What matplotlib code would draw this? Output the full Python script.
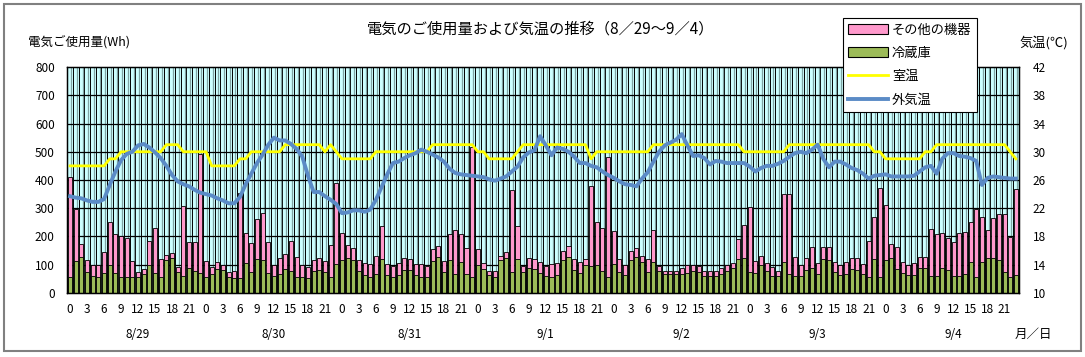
import numpy as np
import matplotlib
matplotlib.use('Agg')
import matplotlib.pyplot as plt
from matplotlib.patches import Patch, Rectangle
from matplotlib.lines import Line2D

plt.rcParams['font.family'] = ['Noto Sans CJK JP', 'DejaVu Sans']

days = ['8/29', '8/30', '8/31', '9/1', '9/2', '9/3', '9/4']
hour_ticks = [0, 3, 6, 9, 12, 15, 18, 21]

# hourly total usage (Wh) = その他の機器 + 冷蔵庫
total_wh = [
    410, 297, 173, 117, 99, 99, 144, 250, 208, 200, 196, 113, 75, 85, 185, 229, 119, 134, 140, 93, 307, 182, 182, 491,
    113, 93, 109, 99, 75, 79, 353, 211, 178, 261, 284, 182, 99, 123, 137, 185, 127, 99, 93, 117, 123, 113, 170, 388,
    211, 170, 158, 117, 105, 101, 132, 238, 101, 97, 105, 125, 120, 101, 101, 97, 155, 166, 113, 209, 223, 208, 158, 518,
    155, 105, 78, 78, 132, 146, 365, 238, 97, 123, 119, 109, 97, 101, 105, 150, 165, 119, 109, 119, 379, 250, 231, 483,
    220, 119, 99, 150, 158, 132, 119, 223, 97, 79, 79, 79, 87, 99, 99, 97, 79, 79, 79, 87, 99, 105, 190, 241,
    306, 113, 131, 105, 93, 78, 349, 349, 126, 99, 123, 164, 105, 162, 162, 111, 99, 111, 123, 123, 103, 185, 268, 371,
    310, 173, 164, 111, 99, 105, 126, 126, 225, 208, 211, 196, 182, 211, 215, 250, 297, 268, 223, 264, 280, 280, 197, 367,
]
# 冷蔵庫 (Wh)
fridge_wh = [
    55, 113, 126, 75, 61, 58, 70, 99, 70, 58, 58, 58, 58, 66, 99, 70, 58, 117, 123, 75, 61, 90, 78, 70,
    58, 66, 85, 81, 58, 54, 54, 105, 73, 120, 117, 70, 61, 66, 85, 78, 58, 58, 54, 78, 81, 75, 58, 101,
    117, 123, 117, 78, 64, 58, 66, 119, 64, 58, 64, 81, 81, 64, 58, 58, 113, 126, 75, 117, 66, 109, 66, 58,
    99, 85, 64, 58, 117, 125, 75, 119, 75, 87, 85, 70, 61, 58, 64, 117, 129, 81, 70, 99, 96, 99, 79, 58,
    101, 75, 64, 117, 129, 109, 75, 111, 78, 66, 66, 66, 66, 70, 78, 75, 61, 61, 61, 68, 78, 90, 119, 125,
    75, 72, 99, 78, 61, 61, 111, 66, 61, 61, 81, 90, 66, 120, 117, 73, 64, 66, 85, 81, 66, 58, 120, 58,
    117, 125, 85, 72, 64, 64, 90, 87, 61, 61, 90, 81, 61, 61, 66, 111, 58, 111, 125, 123, 117, 73, 58, 64,
]
# 室温 (C)
room_temp = [
    28, 28, 28, 28, 28, 28, 28, 29, 29, 30, 30, 30, 30, 30, 30, 30, 30, 31, 31, 31, 30, 30, 30, 30,
    30, 28, 28, 28, 28, 28, 29, 29, 30, 30, 30, 30, 30, 30, 31, 31, 31, 31, 31, 31, 31, 30, 31, 30,
    29, 29, 29, 29, 29, 29, 30, 30, 30, 30, 30, 30, 30, 30, 30, 30, 31, 31, 31, 31, 31, 31, 31, 31,
    30, 30, 29, 29, 29, 29, 29, 30, 31, 31, 31, 31, 31, 31, 31, 31, 31, 31, 31, 31, 29, 30, 30, 30,
    30, 30, 30, 30, 30, 30, 30, 31, 31, 31, 31, 31, 31, 31, 31, 31, 31, 31, 31, 31, 31, 31, 31, 30,
    30, 30, 30, 30, 30, 30, 30, 31, 31, 31, 31, 31, 31, 31, 31, 31, 31, 31, 31, 31, 31, 31, 30, 30,
    29, 29, 29, 29, 29, 29, 29, 30, 30, 31, 31, 31, 31, 31, 31, 31, 31, 31, 31, 31, 31, 31, 30, 29,
]
# 外気温 (C)
outside_temp = [
    23.7, 23.5, 23.4, 23.1, 22.9, 22.9, 23.3, 25.3, 27.2, 28.8, 29.7, 30.0, 30.9, 31.1, 30.6, 29.9, 29.1, 28.0, 26.7, 25.8, 25.4, 25.1, 24.6, 24.2,
    24.0, 23.8, 23.4, 23.1, 22.7, 22.7, 23.6, 25.4, 26.9, 28.4, 29.6, 31.0, 32.0, 31.6, 31.6, 31.1, 30.4, 29.3, 26.6, 24.3, 24.3, 23.7, 23.2, 22.6,
    21.3, 21.4, 21.7, 21.7, 21.5, 21.8, 23.2, 25.0, 26.8, 28.4, 28.6, 29.1, 29.5, 29.8, 30.3, 30.0, 29.6, 29.2, 28.6, 27.6, 27.0, 26.8, 26.7, 26.6,
    26.5, 26.4, 26.1, 25.9, 26.2, 26.5, 27.2, 27.9, 29.2, 29.9, 30.2, 32.2, 30.9, 29.5, 30.6, 30.4, 30.0, 29.3, 28.4, 28.4, 28.0, 27.8, 27.2, 26.7,
    26.3, 25.8, 25.4, 25.3, 25.1, 26.2, 27.1, 28.6, 30.0, 30.9, 31.3, 31.7, 32.5, 30.9, 29.4, 29.5, 29.1, 28.2, 28.7, 28.6, 28.4, 28.4, 28.4, 28.4,
    27.9, 27.2, 27.7, 28.0, 28.0, 28.3, 28.7, 29.3, 29.8, 30.0, 29.8, 30.3, 31.0, 29.0, 27.8, 28.6, 28.6, 28.2, 27.7, 27.4, 26.9, 26.2, 26.6, 26.7,
    26.8, 26.5, 26.5, 26.5, 26.5, 26.6, 27.2, 27.8, 28.0, 26.9, 29.0, 29.8, 29.8, 29.4, 29.3, 29.1, 28.7, 25.3, 26.3, 26.5, 26.4, 26.3, 26.2, 26.2,
]

pink = '#FF99CC'
green = '#9CBB58'
cyan = '#CCFFFF'

n = len(total_wh)
x = np.arange(n)

fig = plt.figure(figsize=(10.85, 3.57), dpi=100)
fig.patches.append(Rectangle((0.004, 0.018), 0.992, 0.972, transform=fig.transFigure,
                             fill=False, edgecolor='#808080', lw=1.5))
ax = fig.add_axes([0.062, 0.1793, 0.8769, 0.633])
ax.set_facecolor(cyan)

# gridlines
for v in np.arange(-0.5, n, 1.0):
    ax.axvline(v, color='black', lw=0.7, zorder=0.5)
for v in x:
    ax.axvline(v + 0.2, color='#7fa3a3', lw=0.9, zorder=0.5)
for h in range(100, 800, 100):
    ax.axhline(h, color='black', lw=0.9, zorder=0.6)

ax.bar(x, total_wh, width=0.72, color=pink, edgecolor='black', lw=0.6, zorder=2)
ax.bar(x, fridge_wh, width=0.72, color=green, edgecolor='black', lw=0.6, zorder=2)

ax.set_xlim(-0.5, n - 0.5)
ax.set_ylim(0, 800)
ax.set_yticks(range(0, 801, 100))
ax.tick_params(axis='y', length=0, pad=9, labelsize=8.5)
pos = [d * 24 + h for d in range(len(days)) for h in hour_ticks]
ax.set_xticks(pos)
ax.set_xticklabels([str(h) for d in range(len(days)) for h in hour_ticks])
ax.tick_params(axis='x', length=0, pad=7, labelsize=8.5)
for s in ax.spines.values():
    s.set_color('black')
    s.set_linewidth(1.0)

ax2 = ax.twinx()
ax2.plot(x, room_temp, color='#FFFF00', lw=2, zorder=3)
ax2.plot(x, outside_temp, color='#5B8BC6', lw=2.8, zorder=4)
ax2.set_ylim(10, 42)
ax2.set_yticks(range(10, 43, 4))
ax2.tick_params(axis='y', length=0, pad=10, labelsize=8.5)

for d, lab in enumerate(days):
    ax.text(d * 24 + 12, -0.185, lab, transform=ax.get_xaxis_transform(),
            ha='center', va='center', fontsize=8.5)
fig.text(0.952, 0.062, '月／日', ha='center', va='center', fontsize=9)

fig.text(0.498, 0.918, '電気のご使用量および気温の推移（8／29～9／4）', ha='center', va='center', fontsize=11)
fig.text(0.026, 0.882, '電気ご使用量(Wh)', ha='left', va='center', fontsize=9)
fig.text(0.940, 0.88, '気温(℃)', ha='left', va='center', fontsize=9.5)

handles = [Patch(facecolor=pink, edgecolor='black', lw=0.8, label='その他の機器'),
           Patch(facecolor=green, edgecolor='black', lw=0.8, label='冷蔵庫'),
           Line2D([], [], color='#FFFF00', lw=2, label='室温'),
           Line2D([], [], color='#5B8BC6', lw=2.8, label='外気温')]
leg = fig.legend(handles=handles, loc='upper left', bbox_to_anchor=(0.771, 0.967),
                 fontsize=9.5, frameon=True, fancybox=False, framealpha=1,
                 edgecolor='black', handlelength=3.0, handleheight=0.8,
                 borderpad=0.4, labelspacing=0.78, handletextpad=0.3)
leg.get_frame().set_linewidth(0.8)

fig.savefig('out.png', dpi=100)
